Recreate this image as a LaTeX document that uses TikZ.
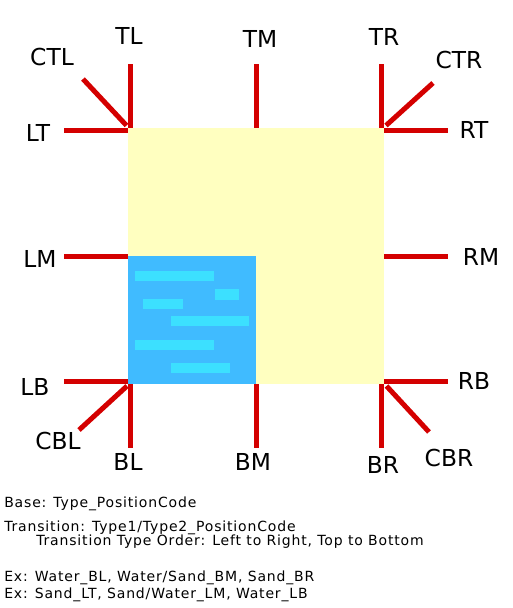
\documentclass[tikz,border=0pt]{standalone}
\usepackage{fontspec}
\setmainfont{DejaVu Sans}
\usepackage{tikz}
\tikzstyle{stick}=[line width=3.75pt, draw=stickred]
\tikzstyle{code} = [inner sep=0pt, font=\fontsize{17.5}{19}\selectfont]
\tikzstyle{note} = [inner sep=0pt, anchor=base west, font=\fontsize{10.5}{12}\addfontfeature{LetterSpace=6}\selectfont]
\definecolor{stickred}{RGB}{212,0,0}
\definecolor{sand}{RGB}{255,255,192}
\definecolor{water}{RGB}{64,187,255}
\definecolor{ripple}{RGB}{60,224,255}

\begin{document}
\begin{tikzpicture}[x=0.75pt, y=-0.75pt]
            \useasboundingbox (0,0) rectangle (512,608);

            % tile
            \fill[sand] (128,128) rectangle (384,384);
            \fill[water] (128,256) rectangle (256,384);
            \fill[ripple] (135,271) rectangle (214,281);
            \fill[ripple] (215,289) rectangle (239,300);
            \fill[ripple] (143,299) rectangle (183,309);
            \fill[ripple] (171,316) rectangle (249,326);
            \fill[ripple] (135,340) rectangle (214,350);
            \fill[ripple] (171,363) rectangle (230,373);

            % top
            \draw[stick] (130.5,64) -- (130.5,128);
            \draw[stick] (256,64) -- (256,128);
            \draw[stick] (381.5,64) -- (381.5,128);
            \draw[stick] (83,79) -- (126.5,125.5);
            \draw[stick] (433,83) -- (386,125.5);
            \draw[stick] (64,130.5) -- (128,130.5);
            \draw[stick] (384,130.5) -- (448,130.5);

            % middle
            \draw[stick] (64,256) -- (128,256);
            \draw[stick] (384,256) -- (448,256);

            % bottom
            \draw[stick] (64,381.5) -- (128,381.5);
            \draw[stick] (384,381.5) -- (448,381.5);
            \draw[stick] (130.5,384) -- (130.5,448);
            \draw[stick] (256,384) -- (256,448);
            \draw[stick] (381.5,384) -- (381.5,448);
            \draw[stick] (127,386) -- (79,430);
            \draw[stick] (386.5,386) -- (429,432);

            \node[code] (tl) at (129,36) {TL};
            \node[code] (tm) at (260,39) {TM};
            \node[code] (tr) at (384,37) {TR};
            \node[code] (ctl) at (52,57) {CTL};
            \node[code] (ctr) at (459,60) {CTR};
            \node[code] (lt) at (38,133) {LT};
            \node[code] (rt) at (474,130) {RT};
            \node[code] (lm) at (40,259) {LM};
            \node[code] (rm) at (481,257) {RM};
            \node[code] (lb) at (35,387) {LB};
            \node[code] (rb) at (474,381) {RB};
            \node[code] (cbl) at (58,441) {CBL};
            \node[code] (bl) at (128,462) {BL};
            \node[code] (bm) at (253,462) {BM};
            \node[code] (br) at (383,465) {BR};
            \node[code] (cbr) at (449,458) {CBR};

            % naming notes
            \node[note] (base) at (4,507) {Base: Type\_PositionCode};
            \node[note] (trans) at (4,531) {Transition: Type1/Type2\_PositionCode};
            \node[note] (order) at (36,545) {Transition Type Order: Left to Right, Top to Bottom};
            \node[note] (exa) at (4,581) {Ex: Water\_BL, Water/Sand\_BM, Sand\_BR};
            \node[note] (exb) at (4,598) {Ex: Sand\_LT, Sand/Water\_LM, Water\_LB};
\end{tikzpicture}
\end{document}
